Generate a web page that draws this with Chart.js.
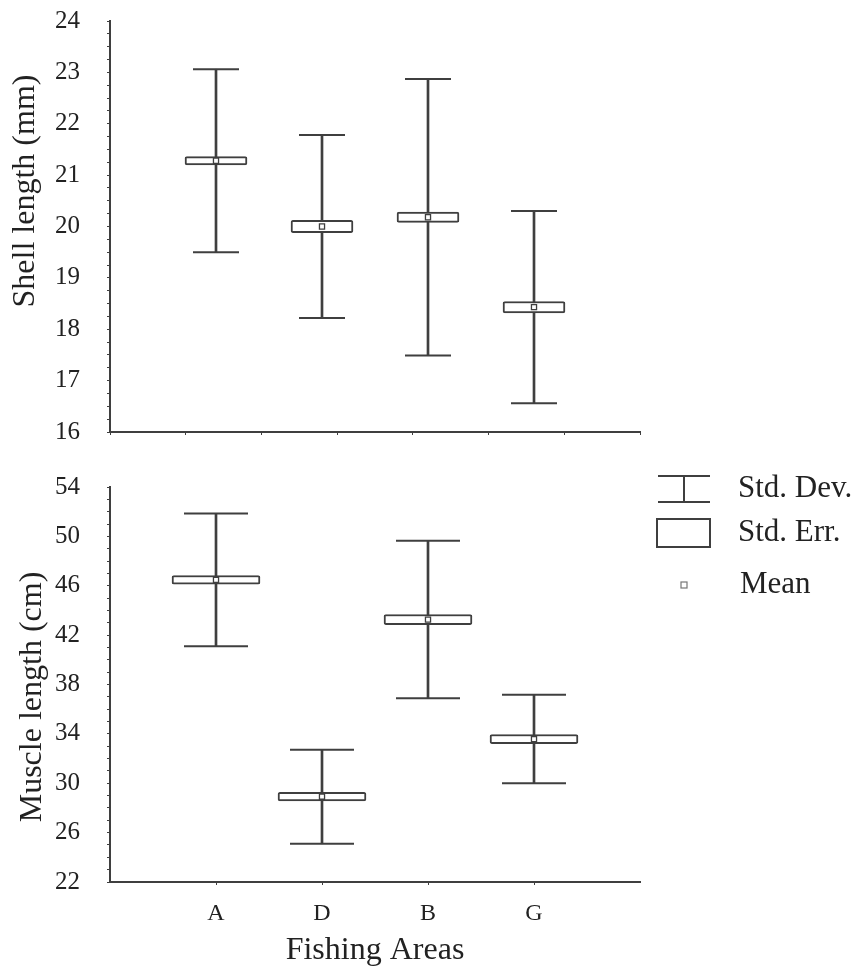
<!DOCTYPE html>
<html>
<head>
<meta charset="utf-8">
<script src="https://cdn.jsdelivr.net/npm/chart.js@4.4.1/dist/chart.umd.min.js"></script>
<style>
  html, body { margin: 0; padding: 0; background: #fff; }
  #wrap { position: relative; width: 864px; height: 967px; }
  .box { position: absolute; left: 0; width: 864px; }
  #top { top: 0; height: 447px; }
  #bottom { top: 447px; height: 520px; }
</style>
</head>
<body>
<div id="wrap">
  <div class="box" id="top"><canvas id="shellChart" width="864" height="447"></canvas></div>
  <div class="box" id="bottom"><canvas id="muscleChart" width="864" height="520"></canvas></div>
</div>
<script>
// fishing areas, in plotting order
const areas = ["A", "D", "B", "G"]
const areaPos = [1, 2, 3, 4]

// shell length (mm)
const shellMean = [21.28, 20.00, 20.18, 18.43]
const shellSE = [0.08, 0.12, 0.10, 0.11]
const shellSD = [1.78, 1.78, 2.69, 1.87]

// muscle length (cm)
const muscleMean = [46.48, 28.91, 43.26, 33.58]
const muscleSE = [0.35, 0.35, 0.41, 0.37]
const muscleSD = [5.38, 3.81, 6.38, 3.58]

// y tick labels
const shellTicks = [16, 17, 18, 19, 20, 21, 22, 23, 24]
const muscleTicks = [22, 26, 30, 34, 38, 42, 46, 50, 54]

const legendLabels = ["Std. Dev.", "Std. Err.", "Mean"]

const ink = '#3f3f3f'
const txt = '#222'
const serif = "'Liberation Serif', 'Times New Roman', serif"

// rotated y title, placed by hand like the original figure
const yTitle = {
  id: 'yTitle',
  afterDraw(chart, args, opts) {
    if (!opts.text) return
    const ctx = chart.ctx
    ctx.save()
    ctx.translate(opts.x, chart.chartArea.top + opts.dy)
    ctx.rotate(-Math.PI / 2)
    ctx.font = '32px ' + serif
    ctx.fillStyle = txt
    ctx.textAlign = 'center'
    ctx.textBaseline = 'middle'
    ctx.fillText(opts.text, 0, 0)
    ctx.restore()
  }
}

// legend at the right of the lower panel
const boxLegend = {
  id: 'boxLegend',
  afterDraw(chart, args, opts) {
    if (!opts.show) return
    const ctx = chart.ctx
    const x0 = chart.chartArea.right + 18
    const tx = chart.chartArea.right + 98
    const top = chart.chartArea.top
    const cy = [top + 2, top + 46, top + 98]
    ctx.save()
    ctx.strokeStyle = ink
    ctx.lineWidth = 2
    // std dev symbol
    ctx.beginPath()
    ctx.moveTo(x0, cy[0] - 13); ctx.lineTo(x0 + 52, cy[0] - 13)
    ctx.moveTo(x0, cy[0] + 13); ctx.lineTo(x0 + 52, cy[0] + 13)
    ctx.moveTo(x0 + 26, cy[0] - 13); ctx.lineTo(x0 + 26, cy[0] + 13)
    ctx.stroke()
    // std err symbol
    ctx.strokeRect(x0 - 1, cy[1] - 14, 53, 28)
    // mean symbol
    ctx.lineWidth = 1.2
    ctx.strokeStyle = '#777'
    ctx.strokeRect(x0 + 23, cy[2] - 3, 6, 6)
    ctx.font = '31px ' + serif
    ctx.fillStyle = txt
    ctx.textBaseline = 'middle'
    legendLabels.forEach((l, i) => ctx.fillText(l, tx + (i === 2 ? 2 : 0), cy[i]))
    ctx.restore()
  }
}

function buildChart(canvas, o) {
  const lo = o.mean.map((m, i) => m - o.sd[i])
  const hi = o.mean.map((m, i) => m + o.sd[i])

  return new Chart(canvas, {
    type: 'scatter',
    data: {
      datasets: [
        {
          type: 'scatter',
          order: 0,
          data: areaPos.map((x, i) => ({x, y: o.mean[i]})),
          pointStyle: 'rect',
          pointRadius: 3.6,
          pointBackgroundColor: '#fff',
          pointBorderColor: ink,
          pointBorderWidth: 1.3
        },
        {
          type: 'bar',
          order: 1,
          grouped: false,
          data: areaPos.map((x, i) => ({x, y: [o.mean[i] - o.se[i], o.mean[i] + o.se[i]]})),
          barThickness: o.boxW,
          backgroundColor: '#fff',
          borderColor: ink,
          borderWidth: 2,
          borderRadius: 2,
          borderSkipped: false
        },
        {
          type: 'scatter',
          order: 2,
          data: areaPos.flatMap((x, i) => [{x, y: hi[i]}, {x, y: lo[i]}]),
          pointStyle: 'line',
          pointRadius: o.capW / 2,
          pointBorderColor: ink,
          pointBorderWidth: 2
        },
        {
          type: 'bar',
          order: 3,
          grouped: false,
          data: areaPos.map((x, i) => ({x, y: [lo[i], hi[i]]})),
          barThickness: 2,
          backgroundColor: ink,
          borderWidth: 0
        }
      ]
    },
    options: {
      responsive: false,
      animation: false,
      devicePixelRatio: 1,
      layout: {autoPadding: false, padding: {left: 0, right: 224, top: o.padTop, bottom: 0}},
      plugins: {
        legend: {display: false},
        tooltip: {enabled: false},
        yTitle: o.yTitle,
        boxLegend: {show: o.legend}
      },
      scales: {
        x: {
          type: 'linear',
          min: 0,
          max: 5,
          offset: false,
          afterFit: s => { s.height = o.xHeight },
          afterBuildTicks: s => { s.ticks = o.xTicks.map(v => ({value: v})) },
          border: {display: true, color: ink, width: 2},
          grid: {offset: false, drawOnChartArea: false, drawTicks: true, tickLength: 3, color: ink},
          ticks: {
            autoSkip: false,
            maxRotation: 0,
            padding: 14,
            color: txt,
            font: {family: serif, size: 24},
            callback: v => o.xLabels ? (areas[areaPos.indexOf(v)] || '') : ''
          },
          title: o.xTitle
        },
        y: {
          min: o.yMin,
          max: o.yMax,
          afterFit: s => { s.width = 110 },
          border: {display: true, color: ink, width: 2},
          // long tick slot for the label gap, only the 3px next to the axis is drawn
          grid: {
            drawOnChartArea: false, drawTicks: true, tickLength: 30,
            tickBorderDash: [3, 27], tickBorderDashOffset: 3, color: ink
          },
          ticks: {
            stepSize: o.minor,
            autoSkip: false,
            padding: 0,
            color: txt,
            font: {family: serif, size: 25},
            callback: v => o.yLabels.includes(v) ? v : ''
          }
        }
      }
    },
    plugins: [yTitle, boxLegend]
  })
}

buildChart(document.querySelector('#shellChart'), {
  mean: shellMean, se: shellSE, sd: shellSD,
  yMin: 16, yMax: 24, minor: 0.25, yLabels: shellTicks,
  boxW: 62, capW: 46,
  padTop: 21, xHeight: 14,
  xTicks: [0, 1, 2, 3, 4, 5, 6, 7].map(k => k * 5 / 7),
  xLabels: false,
  xTitle: {display: false},
  yTitle: {text: 'Shell length (mm)', x: 26, dy: 170},
  legend: false
})

buildChart(document.querySelector('#muscleChart'), {
  mean: muscleMean, se: muscleSE, sd: muscleSD,
  yMin: 22, yMax: 54, minor: 1, yLabels: muscleTicks,
  boxW: 88, capW: 64,
  padTop: 40, xHeight: 85,
  xTicks: areaPos,
  xLabels: true,
  xTitle: {
    display: true,
    text: 'Fishing Areas',
    color: txt,
    font: {family: serif, size: 32, lineHeight: 1},
    padding: {top: 0, bottom: 0}
  },
  yTitle: {text: 'Muscle length (cm)', x: 33, dy: 210},
  legend: true
})
</script>
</body>
</html>
